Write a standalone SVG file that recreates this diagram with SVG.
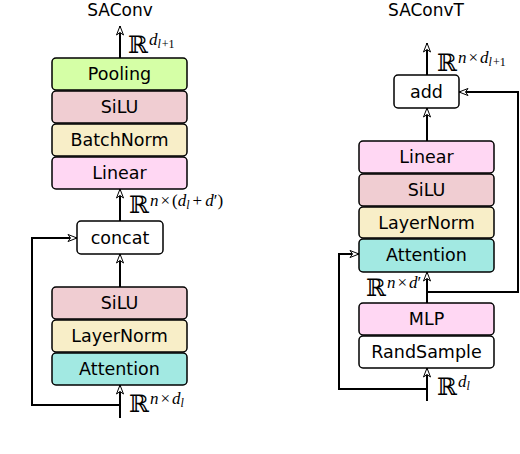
<svg xmlns="http://www.w3.org/2000/svg" width="520" height="454" viewBox="0 0 520 454">
<defs>
<marker id="ah" markerUnits="userSpaceOnUse" markerWidth="14" markerHeight="10" viewBox="-1 -5 12 10" refX="9" refY="0" orient="auto">
<path d="M0,-3.5 L9,0 L0,3.5 L2.5,0 Z" fill="#fff" stroke="#000" stroke-width="1"/>
</marker>
<style>
.b{stroke:#000;stroke-width:1.5}
.t{font-family:"DejaVu Sans","Liberation Sans",sans-serif;font-size:17.5px;text-anchor:middle;fill:#000}
.ti{font-family:"DejaVu Sans","Liberation Sans",sans-serif;font-size:17px;text-anchor:middle;fill:#000}
.c{fill:none;stroke:#000;stroke-width:2;marker-end:url(#ah)}
.R{font-family:"DejaVu Serif","DejaVu Sans",serif;font-size:24px;font-style:normal}
.m{font-family:"Liberation Serif","DejaVu Serif",serif;font-style:italic;font-size:17px}
.s{font-family:"Liberation Serif","DejaVu Serif",serif;font-style:italic;font-size:12px}
.u{font-family:"Liberation Serif","DejaVu Serif",serif;font-style:normal;font-size:17px}
.us{font-family:"Liberation Serif","DejaVu Serif",serif;font-style:normal;font-size:12px}
.lab{fill:#000}
.green{fill:#d5ffa6}.pink{fill:#f0cdd2}.yellow{fill:#f8eec8}.mag{fill:#ffd7f3}.cyan{fill:#a2e9e2}.white{fill:#fff}
</style>
</defs>
<text class="ti" x="120" y="16">SAConv</text>
<text class="ti" x="426" y="16">SAConvT</text>

<g id="connectors">
<path class="c" d="M120,58 V26"/>
<path class="c" d="M120,221 V189"/>
<path class="c" d="M120,287 V254"/>
<path class="c" d="M120,418 V385"/>
<path class="c" d="M120,405 H32 V238 H77"/>
<path class="c" d="M427,75 V43"/>
<path class="c" d="M427,141 V108"/>
<path class="c" d="M427,303 V272"/>
<path class="c" d="M427,292 H518 V92 H459"/>
<path class="c" d="M427,401 V368"/>
<path class="c" d="M427,389 H339 V254 H359"/>
</g>

<g id="pooling"><rect class="b green" x="52" y="58" width="135" height="32" rx="4"/><text class="t" x="119.5" y="80">Pooling</text></g>
<g id="silu1"><rect class="b pink" x="52" y="91" width="135" height="32" rx="4"/><text class="t" x="119.5" y="113">SiLU</text></g>
<g id="batchnorm"><rect class="b yellow" x="52" y="124" width="135" height="32" rx="4"/><text class="t" x="119.5" y="146">BatchNorm</text></g>
<g id="linear1"><rect class="b mag" x="52" y="157" width="135" height="32" rx="4"/><text class="t" x="119.5" y="179">Linear</text></g>
<g id="concat"><rect class="b white" x="77" y="221" width="86" height="33" rx="4"/><text class="t" x="120" y="244">concat</text></g>
<g id="silu2"><rect class="b pink" x="52" y="287" width="135" height="32" rx="4"/><text class="t" x="119.5" y="309">SiLU</text></g>
<g id="layernorm1"><rect class="b yellow" x="52" y="320" width="135" height="32" rx="4"/><text class="t" x="119.5" y="342">LayerNorm</text></g>
<g id="attention1"><rect class="b cyan" x="52" y="353" width="135" height="32" rx="4"/><text class="t" x="119.5" y="375">Attention</text></g>

<g id="add"><rect class="b white" x="394" y="75" width="65" height="33" rx="4"/><text class="t" x="426.5" y="98">add</text></g>
<g id="linear2"><rect class="b mag" x="359" y="141" width="135" height="32" rx="4"/><text class="t" x="426.5" y="163">Linear</text></g>
<g id="silu3"><rect class="b pink" x="359" y="174" width="135" height="32" rx="4"/><text class="t" x="426.5" y="196">SiLU</text></g>
<g id="layernorm2"><rect class="b yellow" x="359" y="207" width="135" height="31" rx="4"/><text class="t" x="426.5" y="229">LayerNorm</text></g>
<g id="attention2"><rect class="b cyan" x="359" y="239" width="135" height="33" rx="4"/><text class="t" x="426.5" y="261">Attention</text></g>
<g id="mlp"><rect class="b mag" x="359" y="303" width="135" height="32" rx="4"/><text class="t" x="426.5" y="325">MLP</text></g>
<g id="randsample"><rect class="b white" x="359" y="336" width="135" height="32" rx="4"/><text class="t" x="426.5" y="358">RandSample</text></g>

<g id="labels">
<text class="lab" x="128" y="53"><tspan class="R">ℝ</tspan><tspan class="m" dx="1" dy="-8">d</tspan><tspan class="s" dy="3">l</tspan><tspan class="us" dx="1">+1</tspan></text>
<text class="lab" x="129" y="213"><tspan class="R">ℝ</tspan><tspan class="m" dx="1" dy="-7">n</tspan><tspan class="u" dx="2">×</tspan><tspan class="u" dx="2">(</tspan><tspan class="m">d</tspan><tspan class="s" dy="3">l</tspan><tspan class="u" dx="3" dy="-3">+</tspan><tspan class="m" dx="3">d</tspan><tspan class="u">′)</tspan></text>
<text class="lab" x="129" y="412"><tspan class="R">ℝ</tspan><tspan class="m" dx="1" dy="-8">n</tspan><tspan class="u" dx="2">×</tspan><tspan class="m" dx="2">d</tspan><tspan class="s" dy="3">l</tspan></text>
<text class="lab" x="437" y="71"><tspan class="R">ℝ</tspan><tspan class="m" dx="1" dy="-8">n</tspan><tspan class="u" dx="2">×</tspan><tspan class="m" dx="2">d</tspan><tspan class="s" dy="3">l</tspan><tspan class="us" dx="1">+1</tspan></text>
<text class="lab" x="366" y="296"><tspan class="R">ℝ</tspan><tspan class="m" dx="1" dy="-8">n</tspan><tspan class="u" dx="2">×</tspan><tspan class="m" dx="2">d</tspan><tspan class="u">′</tspan></text>
<text class="lab" x="437" y="395"><tspan class="R">ℝ</tspan><tspan class="m" dx="1" dy="-8">d</tspan><tspan class="s" dy="3">l</tspan></text>
</g>
</svg>
